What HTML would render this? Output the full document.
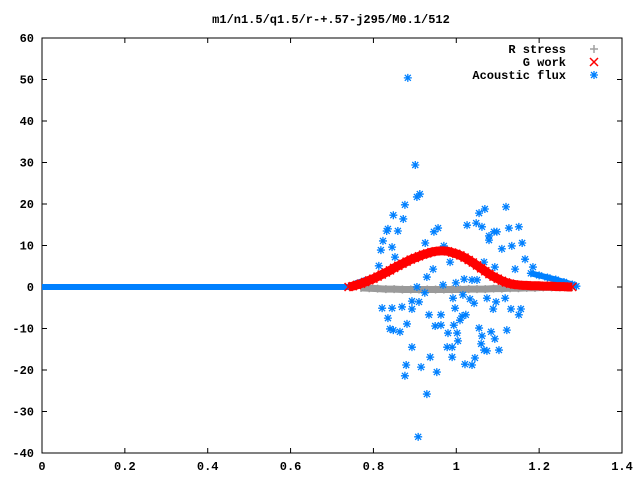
<!DOCTYPE html>
<html><head><meta charset="utf-8"><style>
body{margin:0;background:#fff}
svg{display:block}
text{font-family:"Liberation Mono",monospace;font-size:12px;font-weight:bold;fill:#000}
</style></head><body>
<svg id="chart" width="640" height="480" xmlns="http://www.w3.org/2000/svg">
<text x="331" y="23" text-anchor="middle">m1/n1.5/q1.5/r-+.57-j295/M0.1/512</text>
<g id="axes"></g>
<g id="series"></g>
<g id="legend"></g>
</svg>
<script>
const xTicks=[0,0.2,0.4,0.6,0.8,1,1.2,1.4];
const yTicks=[60,50,40,30,20,10,0,-10,-20,-30,-40];
const stressX=[0.77,0.79,0.81,0.83,0.85,0.87,0.89,0.91,0.93,0.95,0.97,0.99,1.01,1.03,1.05,1.07,1.09,1.11,1.13,1.15,1.17,1.19,1.21,1.23,1.25,1.27,1.28];
const stressY=[-0.2,-0.3,-0.4,-0.5,-0.5,-0.6,-0.6,-0.6,-0.6,-0.6,-0.6,-0.6,-0.6,-0.5,-0.5,-0.5,-0.4,-0.4,-0.3,-0.3,-0.2,-0.2,-0.1,-0.1,-0.1,0,0];
const workX=[0.74,0.75,0.76,0.77,0.78,0.79,0.80,0.81,0.82,0.83,0.84,0.85,0.86,0.87,0.88,0.89,0.90,0.91,0.92,0.93,0.94,0.95,0.96,0.97,0.98,0.99,1.00,1.01,1.02,1.03,1.04,1.05,1.06,1.07,1.08,1.09,1.10,1.11,1.12,1.13,1.14,1.15,1.16,1.17,1.18,1.19,1.20,1.21,1.22,1.23,1.24,1.25,1.26,1.27,1.28];
const workY=[0,0.2,0.5,0.8,1.2,1.6,2.0,2.5,3.0,3.5,4.0,4.6,5.1,5.6,6.1,6.6,7.0,7.4,7.8,8.1,8.4,8.6,8.7,8.7,8.6,8.3,8.0,7.6,7.1,6.5,5.9,5.2,4.5,3.8,3.1,2.5,2.0,1.5,1.1,0.8,0.6,0.5,0.4,0.4,0.3,0.3,0.3,0.2,0.2,0.2,0.1,0.1,0.1,0,0];
const fluxCurveX=[0,0.1,0.2,0.3,0.4,0.5,0.6,0.7,0.74,0.75,0.76,0.77,0.78,0.79,0.80,0.81,0.82,0.83];
const fluxCurveY=[0,0,0,0,0,0,0,0,0,0.5,1.0,1.3,1.7,2.0,2.3,2.7,3.0,3.2];
const fluxTailX=[1.18,1.20,1.22,1.24,1.26,1.28,1.29];
const fluxTailY=[3.3,2.8,2.3,1.8,1.2,0.6,0.2];
const fluxX=[0.883,0.901,0.912,0.905,0.876,0.848,0.872,0.835,0.832,0.859,0.823,0.818,0.845,0.852,0.813,0.925,0.946,0.956,0.970,0.944,0.929,1.026,1.048,1.055,1.069,1.062,1.079,1.079,1.091,1.098,1.120,1.127,1.151,1.159,1.134,1.110,1.067,0.985,1.166,1.142,1.185,1.093,0.999,1.019,1.038,1.050,
0.821,0.845,0.835,0.840,0.848,0.864,0.881,0.869,0.893,0.893,0.910,0.893,0.879,0.876,0.915,0.929,0.908,0.953,0.937,0.934,0.949,0.963,0.963,0.980,0.978,0.990,0.990,0.997,0.994,1.002,1.004,1.009,1.014,1.023,0.992,1.016,1.033,1.043,1.021,1.038,1.045,1.055,1.060,1.062,1.067,1.074,1.074,1.089,1.084,1.093,1.103,1.096,1.118,1.122,1.132,1.151,1.156,0.968,0.924,0.905];
const fluxY=[50.4,29.4,22.4,21.7,19.8,17.3,16.4,14.0,13.5,13.5,11.1,8.9,9.6,7.2,5.1,10.6,13.3,14.2,9.9,4.3,2.4,14.9,15.4,17.8,18.8,14.5,12.3,11.3,13.3,13.3,19.3,14.2,14.5,10.6,9.9,9.2,6.0,6.0,6.7,4.3,4.8,4.8,1.0,1.9,1.7,1.7,
-5.1,-5.1,-7.5,-10.1,-10.4,-10.8,-8.9,-4.8,-3.4,-5.3,-3.6,-14.5,-18.8,-21.4,-19.3,-25.8,-36.1,-20.5,-16.9,-6.7,-9.4,-6.7,-9.2,-11.1,-14.5,-16.9,-14.5,-5.1,-9.2,-11.1,-13.0,-8.0,-7.0,-6.7,-2.7,-1.9,-2.9,-3.9,-18.6,-18.8,-17.1,-9.9,-13.7,-11.8,-15.2,-15.4,-2.7,-5.3,-10.8,-12.5,-15.2,-3.6,-2.7,-10.4,-5.3,-6.7,-5.3,0.5,-1.4,0];

const L=42,R=622,T=38,B=453;
const sx=v=>L+(v-0)/1.4*(R-L);
const sy=v=>T+(60-v)/100*(B-T);
const NS="http://www.w3.org/2000/svg";
function mk(tag,parent,attrs){const e=document.createElementNS(NS,tag);for(const k in attrs)e.setAttribute(k,attrs[k]);parent.appendChild(e);return e;}
const axes=document.getElementById('axes'),ser=document.getElementById('series'),leg=document.getElementById('legend');
const frame=mk('rect',axes,{x:L,y:T,width:R-L,height:B-T,fill:'none',stroke:'#000','stroke-width':1});


xTicks.forEach(t=>{const x=sx(t);
 mk('path',axes,{d:`M${x} ${B}v-5M${x} ${T}v5`,stroke:'#000'});
 const tx=mk('text',axes,{x:x,y:B+17,'text-anchor':'middle'});tx.textContent=String(t);
 
 });
yTicks.forEach(t=>{const y=sy(t);
 mk('path',axes,{d:`M${L} ${y}h5M${R} ${y}h-5`,stroke:'#000'});
 const tx=mk('text',axes,{x:L-8,y:y+4,'text-anchor':'end'});tx.textContent=String(t);
 
 });
function plus(g,x,y,c){mk('path',g,{d:`M${x-4} ${y}h8M${x} ${y-4}v8`,stroke:c,'stroke-width':1.5});}
function cross(g,x,y,c){mk('path',g,{d:`M${x-4} ${y-4}l8 8M${x-4} ${y+4}l8 -8`,stroke:c,'stroke-width':1.5});}
function star(g,x,y,c){mk('path',g,{d:`M${x-4} ${y}h8M${x} ${y-4}v8M${x-3} ${y-3}l6 6M${x-3} ${y+3}l6 -6`,stroke:c,'stroke-width':1.3});}
const gS=mk('g',ser,{});
mk('polyline',gS,{points:stressX.map((x,i)=>sx(x)+','+sy(stressY[i])).join(' '),fill:'none',stroke:'#9a9a9a','stroke-width':7});
stressX.forEach((x,i)=>plus(gS,sx(x),sy(stressY[i]),'#9a9a9a'));
const gF=mk('g',ser,{});
mk('polyline',gF,{points:fluxCurveX.map((x,i)=>sx(x)+','+sy(fluxCurveY[i])).join(' '),fill:'none',stroke:'#0080ff','stroke-width':6});
mk('polyline',gF,{points:fluxTailX.map((x,i)=>sx(x)+','+sy(fluxTailY[i])).join(' '),fill:'none',stroke:'#0080ff','stroke-width':6});
fluxTailX.forEach((x,i)=>star(gF,sx(x),sy(fluxTailY[i]),'#0080ff'));
const gW=mk('g',ser,{});
mk('polyline',gW,{points:workX.map((x,i)=>sx(x)+','+sy(workY[i])).join(' '),fill:'none',stroke:'#ff0000','stroke-width':9});
workX.forEach((x,i)=>cross(gW,sx(x),sy(workY[i]),'#ff0000'));
fluxX.forEach((x,i)=>star(gF,sx(x),sy(fluxY[i]),'#0080ff'));
const legItems=[['R stress','#a0a0a0',plus],['G work','#ff0000',cross],['Acoustic flux','#0080ff',star]];
legItems.forEach((it,i)=>{const y=49+i*13;
 const t=mk('text',leg,{x:566,y:y+4,'text-anchor':'end'});t.textContent=it[0];
 
 
 it[2](leg,594,y,it[1]);});
</script>
</body></html>
